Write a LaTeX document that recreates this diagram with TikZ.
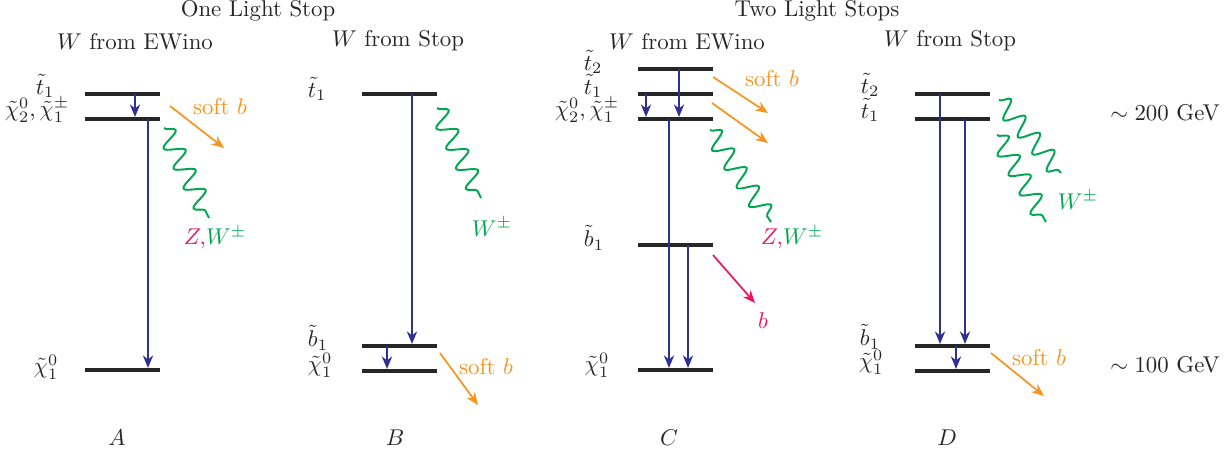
\documentclass[tikz,border=0pt]{standalone}
\usepackage{amsmath,amssymb}
\usetikzlibrary{arrows.meta,decorations.pathmorphing}

\definecolor{decayblue}{RGB}{46,49,146}
\definecolor{softorange}{RGB}{247,148,29}
\definecolor{wgreen}{RGB}{0,166,81}
\definecolor{zpink}{RGB}{237,20,91}

\tikzset{
  level/.style={fill=black!85, inner sep=0pt, minimum width=1.16cm, minimum height=1.4pt},
  decay/.style={decayblue, line width=0.75pt, -{Stealth[length=5.5pt,width=4.5pt]}},
  softb/.style={softorange, line width=0.75pt, -{Stealth[length=5.5pt,width=4.5pt]}},
  pinkb/.style={zpink, line width=0.75pt, -{Stealth[length=5.5pt,width=4.5pt]}},
  boson/.style={wgreen, line width=0.85pt, decorate,
    decoration={snake, amplitude=4.2pt, segment length=9.8pt}},
  lbl/.style={text=black!85}
}

\begin{document}
\begin{tikzpicture}[x=0.0154cm, y=-0.0154cm]
\useasboundingbox (0,0) rectangle (1228,454);

% headings
\node[lbl] (one) at (258,11) {One Light Stop};
\node[lbl] (two) at (817,11) {Two Light Stops};
\node[lbl] (hA) at (135,42) {$W$ from EWino};
\node[lbl] (hB) at (398,41) {$W$ from Stop};
\node[lbl] (hC) at (687,42) {$W$ from EWino};
\node[lbl] (hD) at (950,41) {$W$ from Stop};

% A
\node[level] (At1) at (122.5,94) {};
\node[level] (Achi2) at (122.5,119) {};
\node[level] (Achi1) at (122.5,370) {};
\node[lbl] (lAt1) at (45,86) {$\tilde t_1$};
\node[lbl] (lAchi2) at (37,110) {$\tilde\chi_2^0,\tilde\chi_1^\pm$};
\node[lbl] (lAchi1) at (46,367) {$\tilde\chi_1^0$};
\draw[decay] (135,0 |- At1) -- (135,0 |- Achi2.north);
\draw[decay] (148,0 |- Achi2) -- (148,0 |- Achi1.north);
\coordinate (Ab0) at (170,106); \coordinate (Ab1) at (224,148);
\draw[softb] (Ab0) -- (Ab1);
\node[softorange] (lAb) at (220,107) {soft $b$};
\coordinate (Aw0) at (164,128); \coordinate (Aw1) at (209,218);
\draw[boson] (Aw0) -- (Aw1);
\node (lAw) at (215,238) {$\textcolor{zpink}{Z,}\textcolor{wgreen}{W^\pm}$};
\node[lbl] (A) at (117,438) {$A$};

% B
\node[level] (Bt1) at (399.5,94) {};
\node[level] (Bb1) at (399.5,346) {};
\node[level] (Bchi1) at (399.5,371) {};
\node[lbl] (lBt1) at (317,89) {$\tilde t_1$};
\node[lbl] (lBb1) at (318,338) {$\tilde b_1$};
\node[lbl] (lBchi1) at (320,365) {$\tilde\chi_1^0$};
\draw[decay] (412,0 |- Bt1) -- (412,0 |- Bb1.north);
\draw[decay] (387,0 |- Bb1) -- (387,0 |- Bchi1.north);
\coordinate (Bw0) at (437,108); \coordinate (Bw1) at (481,198);
\draw[boson] (Bw0) -- (Bw1);
\node[wgreen] (lBw) at (492,227) {$W^\pm$};
\coordinate (Bb0) at (440,353); \coordinate (Bbb) at (478,405);
\draw[softb] (Bb0) -- (Bbb);
\node[softorange] (lBb) at (486,367) {soft $b$};
\node[lbl] (B) at (395,438) {$B$};

% C
\node[level] (Ct2) at (675.5,69) {};
\node[level] (Ct1) at (675.5,94) {};
\node[level] (Cchi2) at (675.5,119) {};
\node[level] (Cb1) at (675.5,245) {};
\node[level] (Cchi1) at (675.5,370) {};
\node[lbl] (lCt2) at (593,62) {$\tilde t_2$};
\node[lbl] (lCt1) at (593,86) {$\tilde t_1$};
\node[lbl] (lCchi2) at (587,110) {$\tilde\chi_2^0,\tilde\chi_1^\pm$};
\node[lbl] (lCb1) at (594,238) {$\tilde b_1$};
\node[lbl] (lCchi1) at (597,365) {$\tilde\chi_1^0$};
\draw[decay] (646,0 |- Ct1) -- (646,0 |- Cchi2.north);
\draw[decay] (679,0 |- Ct2) -- (679,0 |- Cchi2.north);
\draw[decay] (669,0 |- Cchi2) -- (669,0 |- Cchi1.north);
\draw[decay] (688,0 |- Cb1) -- (688,0 |- Cchi1.north);
\coordinate (Cs0) at (713,77); \coordinate (Cs1) at (768,113);
\coordinate (Cs2) at (712,103); \coordinate (Cs3) at (768,143);
\draw[softb] (Cs0) -- (Cs1);
\draw[softb] (Cs2) -- (Cs3);
\node[softorange] (lCb) at (772,79) {soft $b$};
\coordinate (Cw0) at (710,130); \coordinate (Cw1) at (771,222);
\draw[boson] (Cw0) -- (Cw1);
\node (lCw) at (792,238) {$\textcolor{zpink}{Z,}\textcolor{wgreen}{W^\pm}$};
\coordinate (Cp0) at (713,255); \coordinate (Cp1) at (755,303);
\draw[pinkb] (Cp0) -- (Cp1);
\node[zpink] (lCp) at (763,321) {$b$};
\node[lbl] (C) at (669,438) {$C$};

% D
\node[level] (Dt2) at (952.5,94) {};
\node[level] (Dt1) at (952.5,119) {};
\node[level] (Db1) at (952.5,346) {};
\node[level] (Dchi1) at (952.5,371) {};
\node[lbl] (lDt2) at (870,85) {$\tilde t_2$};
\node[lbl] (lDt1) at (870,110) {$\tilde t_1$};
\node[lbl] (lDb1) at (870,337) {$\tilde b_1$};
\node[lbl] (lDchi1) at (871,362) {$\tilde\chi_1^0$};
\draw[decay] (940,0 |- Dt2) -- (940,0 |- Db1.north);
\draw[decay] (965,0 |- Dt1) -- (965,0 |- Db1.north);
\draw[decay] (956,0 |- Db1) -- (956,0 |- Dchi1.north);
\coordinate (Dw0) at (999,100); \coordinate (Dw1) at (1061,173);
\coordinate (Dw2) at (997,135); \coordinate (Dw3) at (1046,222);
\draw[boson] (Dw0) -- (Dw1);
\draw[boson] (Dw2) -- (Dw3);
\node[wgreen] (lDw) at (1078,200) {$W^\pm$};
\coordinate (Ds0) at (991,353); \coordinate (Ds1) at (1044,396);
\draw[softb] (Ds0) -- (Ds1);
\node[softorange] (lDb) at (1039,358) {soft $b$};
\node[lbl] (D) at (947,438) {$D$};

% mass scale
\node[lbl] (m200) at (1165,113) {$\sim 200$ GeV};
\node[lbl] (m100) at (1165,365) {$\sim 100$ GeV};

\end{tikzpicture}
\end{document}
